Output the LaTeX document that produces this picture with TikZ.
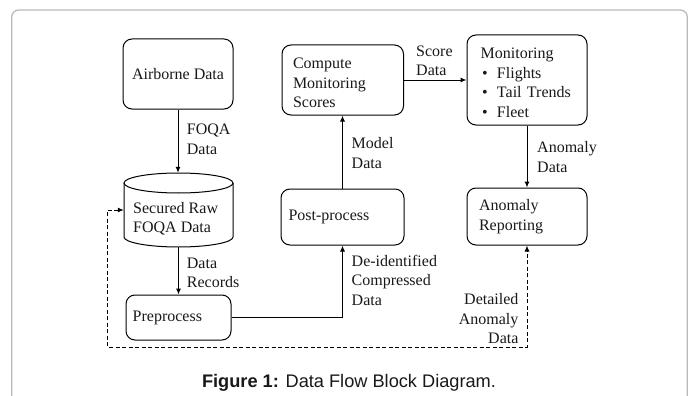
\documentclass[tikz,border=0pt]{standalone}
\usepackage{fontspec}
\setmainfont{Liberation Serif}
\newfontfamily\capfont{Liberation Sans}
\usetikzlibrary{arrows.meta}
\begin{document}
\begin{tikzpicture}[x=1pt,y=-1pt,
  every node/.style={font=\fontsize{16}{19.5}\selectfont, text=black!90},
  box/.style={draw, line width=1pt, rounded corners=9pt, align=left, inner ysep=0pt},
  lbl/.style={inner sep=0pt, align=left, anchor=west},
  arr/.style={line width=1pt, -{Latex[length=6pt,width=5pt]}},
  darr/.style={line width=1pt, dash pattern=on 4pt off 2.5pt, {Latex[length=6pt,width=5pt]}-{Latex[length=6pt,width=5pt]}},
]
\useasboundingbox (0,0) rectangle (693,396);
\clip (0,0) rectangle (693,396);
\fill[white] (0,0) rectangle (693,396);
\draw[color=black!27, line width=1.3pt, rounded corners=7pt] (11.7,10) rectangle (687.3,440);

% boxes
\node[box, align=center, minimum width=110pt, minimum height=70pt, inner sep=0pt] (air) at (178,74) {Airborne Data};

\node[minimum width=109pt, minimum height=74pt, inner sep=0pt] (cyl) at (178.5,210) {};
\draw[line width=1pt] (178.5,183) ellipse [x radius=54.5, y radius=10];
\draw[line width=1pt] (124,183) -- (124,237) .. controls (124,242.5) and (148.4,247) .. (178.5,247) .. controls (208.6,247) and (233,242.5) .. (233,237) -- (233,183);
\node[lbl] (cyltxt) at (133,218.5) {Secured Raw\\FOQA Data};

\node[box, minimum height=45pt, inner xsep=6.7pt, text width=91.6pt] (pre) at (178.5,317.5) {Preprocess};
\node[box, minimum height=56pt, inner xsep=7.5pt, text width=108pt] (post) at (342.5,217) {Post-process};
\node[box, minimum height=70pt, inner xsep=11pt, text width=99.5pt] (comp) at (342.75,80) {\rule{0pt}{17pt}Compute\\Monitoring\\Scores};
\node[box, minimum height=90pt, inner xsep=13.7pt, text width=92.6pt] (mon) at (527,80)
  {\rule{0pt}{16pt}Monitoring\\\hspace*{1.3pt}\makebox[15pt][l]{•}Flights\\\hspace*{1.3pt}\makebox[15pt][l]{•}Tail Trends\\\hspace*{1.3pt}\makebox[15pt][l]{•}Fleet};
\node[box, minimum height=57pt, inner xsep=12pt, text width=96pt] (ar) at (527,216.5) {Anomaly\\Reporting};

% connectors
\draw[arr] (air.south) -- (air.south |- cyl.north);
\draw[arr] (cyl.south) -- (cyl.south |- pre.north);
\draw[arr] (pre.east) -| (post.south);
\draw[arr] (post.north) -- (post.north |- comp.south);
\draw[arr] (comp.east) -- (comp.east -| mon.west);
\draw[arr] (mon.south) -- (ar.north);
\coordinate (dl) at (107.5,347);
\draw[darr] (cyl.west) -| (dl) -| (ar.south);

% labels
\node[lbl] (lfoqa) at (186.7,139.5) {FOQA\\Data};
\node[lbl] (lrec) at (186.7,273) {Data\\Records};
\node[lbl] (ldeid) at (351.5,280) {De-identified\\Compressed\\Data};
\node[lbl] (lmodel) at (351.5,153) {Model\\Data};
\node[lbl] (lscore) at (416,61) {Score\\Data};
\node[lbl] (lanom) at (537,157) {Anomaly\\Data};
\node[lbl, anchor=east, align=right] (ldet) at (518.6,318.7) {Detailed\\Anomaly\\Data};

% caption
\node[inner sep=0pt, font=\capfont\fontsize{18.2}{20}\selectfont] (cap) at (349,383) {\textbf{Figure 1:} Data Flow Block Diagram.};
\end{tikzpicture}
\end{document}
